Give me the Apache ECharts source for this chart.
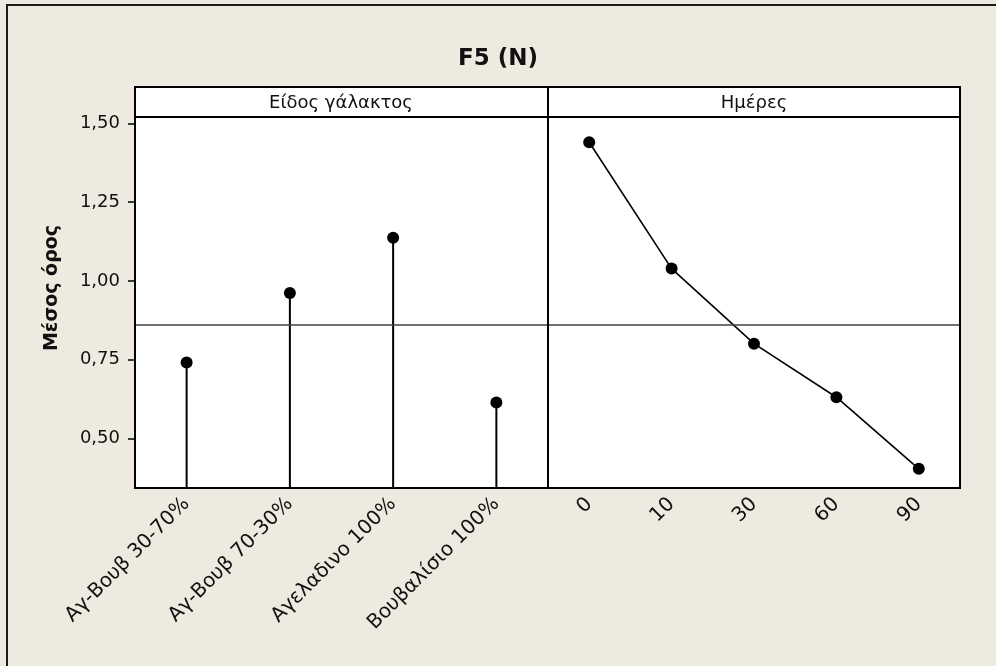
<!DOCTYPE html>
<html>
<head>
<meta charset="utf-8">
<title>F5 (N)</title>
<script src="https://cdn.jsdelivr.net/npm/echarts@6/dist/echarts.min.js"></script>
<style>
	html, body { margin: 0; padding: 0; background: #eeeae0; }
	#main { width: 996px; height: 666px; }
</style>
</head>
<body>
<div id="main"></div>
<script>
var milkTypes = ['Αγ-Βουβ 30-70%', 'Αγ-Βουβ 70-30%', 'Αγελαδινο 100%', 'Βουβαλίσιο 100%'];
var milkMeans = [0.741, 0.962, 1.137, 0.614];
var days = ['0', '10', '30', '60', '90'];
var dayMeans = [1.440, 1.039, 0.801, 0.631, 0.404];
var grandMean = [0.861];
var yTicks = [0.50, 0.75, 1.00, 1.25, 1.50];

var font = 'DejaVu Sans';
var yMin = 0.343, yMax = 1.520;

function comma(v) {
	return v.toFixed(2).replace('.', ',');
}

function meanLine() {
	return {
		silent: true,
		symbol: 'none',
		label: { show: false },
		lineStyle: { color: '#404040', width: 1.5, type: 'solid' },
		data: [{ yAxis: grandMean[0] }]
	};
}

var myChart = echarts.init(document.getElementById('main'));

var xLabel = { interval: 0, rotate: 45, margin: 13, fontSize: 20, color: '#111', fontFamily: font };
var xTick = { alignWithLabel: true, length: 7, lineStyle: { color: '#000', width: 1.5 } };

var option = {
	backgroundColor: '#eeeae0',
	animation: false,
	textStyle: { fontFamily: font },
	title: {
		text: 'F5 (N)',
		left: 'center',
		top: 43,
		textStyle: { fontFamily: font, fontSize: 23, fontWeight: 'bold', color: '#111' }
	},
	grid: [{
		left: 135, top: 117, width: 413, height: 371,
		show: true, backgroundColor: '#fff', borderWidth: 0
	}, {
		left: 548, top: 117, width: 412, height: 371,
		show: true, backgroundColor: '#fff', borderWidth: 0
	}],
	xAxis: [{
		type: 'category',
		gridIndex: 0,
		data: milkTypes,
		axisLine: { show: false },
		axisTick: xTick,
		axisLabel: xLabel
	}, {
		type: 'category',
		gridIndex: 1,
		data: days,
		axisLine: { show: false },
		axisTick: xTick,
		axisLabel: xLabel
	}],
	yAxis: [{
		type: 'value',
		gridIndex: 0,
		min: yMin,
		max: yMax,
		axisLine: { show: false },
		splitLine: { show: false },
		axisTick: { show: true, length: 7, customValues: yTicks, lineStyle: { color: '#000', width: 1.5 } },
		axisLabel: { margin: 15, fontSize: 18, color: '#111', fontFamily: font, customValues: yTicks, formatter: comma }
	}, {
		type: 'value',
		gridIndex: 1,
		min: yMin,
		max: yMax,
		axisLine: { show: false },
		splitLine: { show: false },
		axisTick: { show: false },
		axisLabel: { show: false }
	}],
	series: [{
		// stems
		type: 'bar',
		xAxisIndex: 0,
		yAxisIndex: 0,
		barWidth: 2,
		clip: true,
		itemStyle: { color: '#000' },
		data: milkMeans,
		markLine: meanLine()
	}, {
		type: 'scatter',
		xAxisIndex: 0,
		yAxisIndex: 0,
		symbol: 'circle',
		symbolSize: 12,
		itemStyle: { color: '#000', opacity: 1 },
		data: milkMeans
	}, {
		type: 'line',
		xAxisIndex: 1,
		yAxisIndex: 1,
		symbol: 'circle',
		symbolSize: 12,
		lineStyle: { color: '#000', width: 1.6 },
		itemStyle: { color: '#000', opacity: 1 },
		data: dayMeans,
		markLine: meanLine()
	}],
	graphic: [{
		// outer frame, only top and left edges show
		type: 'rect', z: 0,
		shape: { x: 7, y: 5, width: 1100, height: 800 },
		style: { fill: 'none', stroke: '#1a1a1a', lineWidth: 2 }
	}, {
		type: 'text', z: 101,
		x: 52, y: 288, rotation: Math.PI / 2,
		style: { text: 'Μέσος όρος', font: 'bold 19px "DejaVu Sans"', fill: '#111', align: 'center', verticalAlign: 'middle' }
	}, {
		type: 'rect', z: 100,
		shape: { x: 135, y: 87, width: 413, height: 30 },
		style: { fill: '#fff', stroke: '#000', lineWidth: 2 }
	}, {
		type: 'rect', z: 100,
		shape: { x: 548, y: 87, width: 412, height: 30 },
		style: { fill: '#fff', stroke: '#000', lineWidth: 2 }
	}, {
		type: 'text', z: 101,
		x: 341, y: 103,
		style: { text: 'Είδος γάλακτος', font: '18px "DejaVu Sans"', fill: '#111', align: 'center', verticalAlign: 'middle' }
	}, {
		type: 'text', z: 101,
		x: 754, y: 103,
		style: { text: 'Ημέρες', font: '18px "DejaVu Sans"', fill: '#111', align: 'center', verticalAlign: 'middle' }
	}, {
		type: 'rect', z: 100,
		shape: { x: 135, y: 117, width: 413, height: 371 },
		style: { fill: 'none', stroke: '#000', lineWidth: 2 }
	}, {
		type: 'rect', z: 100,
		shape: { x: 548, y: 117, width: 412, height: 371 },
		style: { fill: 'none', stroke: '#000', lineWidth: 2 }
	}]
};

myChart.setOption(option);
</script>
</body>
</html>
